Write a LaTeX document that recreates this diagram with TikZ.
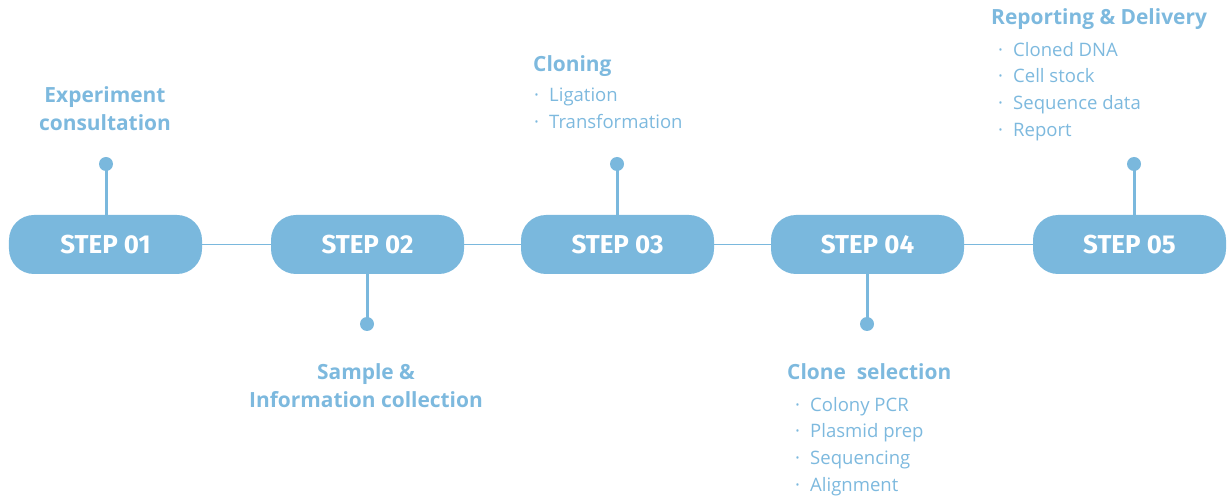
\documentclass[tikz,border=0pt]{standalone}
\usepackage{fontspec}
\setmainfont{Open Sans}
\newfontfamily\stepfont{Fira Sans}
\usepackage{xcolor}
\usetikzlibrary{positioning}
\definecolor{stepblue}{HTML}{7AB8DD}
\definecolor{textblue}{HTML}{7DB9DE}
\newcommand{\bul}{\makebox[17bp][l]{\hspace{2bp}·}}
\tikzset{
    stepbox/.style={
        rectangle, rounded corners=25bp,
        fill=stepblue, minimum width=193bp,
        minimum height=59bp, text=white,
        font=\stepfont\bfseries\fontsize{26}{30}\selectfont
    },
    dot/.style={
        circle, fill=stepblue, inner sep=0pt,
        minimum size=14bp
    },
    stem/.style={stepblue, line width=3bp},
    link/.style={stepblue, line width=1.5bp},
    title/.style={
        text=textblue, inner sep=0pt, align=center,
        font=\bfseries\fontsize{21}{29}\selectfont
    },
    items/.style={
        text=textblue, inner sep=0pt, align=left,
        anchor=north west, font=\fontsize{18.6}{26.8}\selectfont
    }
}

\begin{document}
\begin{tikzpicture}[x=1bp, y=-1bp]

        \useasboundingbox (0,0) rectangle (1229,497);

        % Steps
        \node[stepbox] (s1) at (105.5,244.5) {STEP 01};
        \node[stepbox] (s2) at (367.5,244.5) {STEP 02};
        \node[stepbox] (s3) at (617.5,244.5) {STEP 03};
        \node[stepbox] (s4) at (867.5,244.5) {STEP 04};
        \node[stepbox] (s5) at (1129.5,244.5) {STEP 05};

        % Links
        \draw[link] (s1.east) -- (s2.west);
        \draw[link] (s2.east) -- (s3.west);
        \draw[link] (s3.east) -- (s4.west);
        \draw[link] (s4.east) -- (s5.west);

        % Dots and stems
        \node[dot] (d1) at (106,164) {};
        \node[dot] (d2) at (367,324) {};
        \node[dot] (d3) at (617,164) {};
        \node[dot] (d4) at (867,324) {};
        \node[dot] (d5) at (1134,164) {};
        \draw[stem] (d1.center) -- (d1.center |- s1.north);
        \draw[stem] (d2.center) -- (d2.center |- s2.south);
        \draw[stem] (d3.center) -- (d3.center |- s3.north);
        \draw[stem] (d4.center) -- (d4.center |- s4.south);
        \draw[stem] (d5.center) -- (d5.center |- s5.north);

        % Step 01
        \node[title, anchor=north] (t1) at (105,86) {Experiment\\consultation};

        % Step 02
        \node[title, anchor=north] (t2) at (366,363) {Sample \&\\Information collection};

        % Step 03
        \node[title, anchor=north west] (t3) at (533,55) {Cloning};
        \node[items] (i3) at (532,88) {\bul Ligation\\\bul Transformation};

        % Step 04
        \node[title, anchor=north west] (t4) at (787,363) {Clone\ \ selection};
        \node[items] (i4) at (793,397) {\bul Colony PCR\\\bul Plasmid prep\\\bul Sequencing\\\bul Alignment};

        % Step 05
        \node[title, anchor=north west] (t5) at (991,8) {Reporting \& Delivery};
        \node[items] (i5) at (996,42) {\bul Cloned DNA\\\bul Cell stock\\\bul Sequence data\\\bul Report};

    \end{tikzpicture}
\end{document}
